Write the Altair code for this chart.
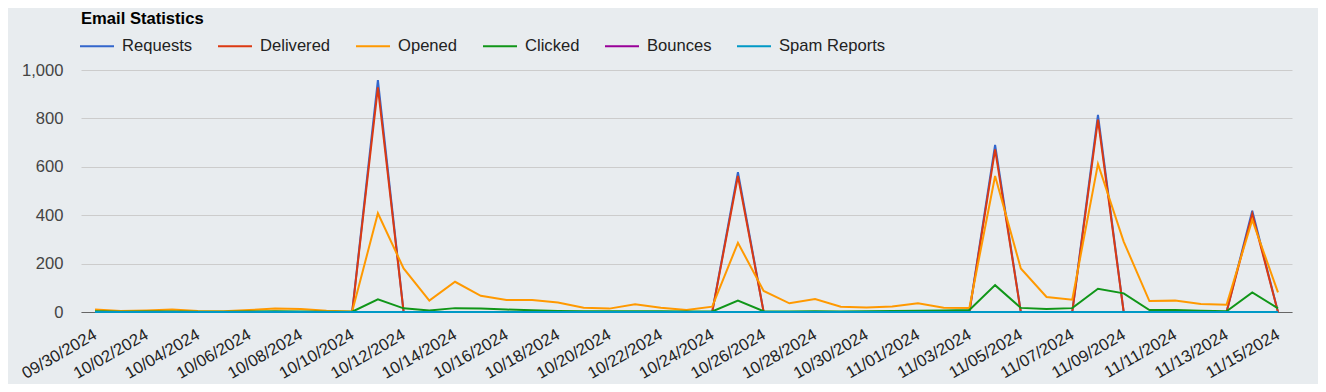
import altair as alt
import pandas as pd

dates = [d.strftime("%m/%d/%Y") for d in pd.date_range("2024-09-30", "2024-11-15", freq="D")]

series_names = ["Requests", "Delivered", "Opened", "Clicked", "Bounces", "Spam Reports"]
series_colors = ["#3366cc", "#dc3912", "#ff9900", "#109618", "#990099", "#0099c6"]

requests = [0, 0, 0, 0, 0, 0, 0, 0, 0, 0, 0, 958, 0, 0, 0, 0, 0, 0, 0, 0, 0, 0, 0, 0, 0,
            578, 0, 0, 0, 0, 0, 0, 0, 0, 0, 690, 0, 0, 0, 815, 0, 0, 0, 0, 0, 418, 0]
delivered = [0, 0, 0, 0, 0, 0, 0, 0, 0, 0, 0, 928, 0, 0, 0, 0, 0, 0, 0, 0, 0, 0, 0, 0, 0,
             562, 0, 0, 0, 0, 0, 0, 0, 0, 0, 672, 0, 0, 0, 795, 0, 0, 0, 0, 0, 405, 0]
opened = [10, 4, 6, 10, 4, 3, 8, 14, 12, 5, 2, 408, 180, 47, 125, 67, 50, 50, 39, 18, 14, 32, 18, 8, 22,
          286, 87, 36, 54, 22, 19, 23, 36, 18, 17, 562, 180, 62, 51, 612, 291, 45, 47, 33, 30, 380, 81]
clicked = [3, 1, 2, 2, 1, 1, 2, 3, 2, 1, 1, 52, 15, 6, 16, 14, 10, 7, 4, 3, 3, 3, 3, 2, 2,
           47, 3, 2, 3, 2, 3, 4, 5, 6, 8, 111, 17, 12, 16, 96, 77, 8, 8, 5, 3, 81, 15]
bounces = [0] * 47
spam_reports = [0] * 47

y_ticks = [0, 200, 400, 600, 800, 1000]

values = [requests, delivered, opened, clicked, bounces, spam_reports]
rows = []
for name, vals in zip(series_names, values):
    for d, v in zip(dates, vals):
        rows.append({"date": d, "series": name, "value": v})
df = pd.DataFrame(rows)

FONT = "Liberation Sans"

x_enc = alt.X(
    "date:O",
    sort=dates,
    scale=alt.Scale(type="point", padding=0.545),
    axis=alt.Axis(
        title=None,
        values=dates[::2],
        labelAngle=-30,
        labelAlign="right",
        labelBaseline="middle",
        labelPadding=21,
        ticks=False,
        tickSize=0,
        grid=False,
        domain=True,
        domainColor="#666666",
        domainWidth=1,
        labelFont=FONT,
        labelFontSize=16.6,
        labelColor="#222222",
        labelOverlap=False,
    ),
)
y_enc = alt.Y(
    "value:Q",
    scale=alt.Scale(domain=[0, 1000], nice=False),
    axis=alt.Axis(
        title=None,
        values=y_ticks,
        format=",d",
        domain=False,
        ticks=False,
        tickSize=0,
        labelPadding=18,
        grid=True,
        gridColor="#cccccc",
        gridWidth=1,
        labelFont=FONT,
        labelFontSize=16.6,
        labelColor="#444444",
    ),
)
color_enc = alt.Color(
    "series:N",
    scale=alt.Scale(domain=series_names, range=series_colors),
    sort=series_names,
    legend=alt.Legend(
        title=None,
        orient="none",
        legendX=-2,
        legendY=-42,
        direction="horizontal",
        columns=6,
        symbolType="stroke",
        symbolSize=1156,
        symbolStrokeWidth=2,
        labelFont=FONT,
        labelFontSize=16.6,
        labelColor="#222222",
        labelOffset=7,
        columnPadding=21,
        padding=0,
    ),
)

layers = []
for name in series_names:
    layers.append(
        alt.Chart(df)
        .transform_filter(alt.datum.series == name)
        .mark_line(strokeWidth=2)
        .encode(x=x_enc, y=y_enc, color=color_enc)
    )

chart = (
    alt.layer(*layers)
    .properties(
        width=1211,
        height=242,
        title=alt.Title(
            "Email Statistics",
            anchor="start",
            frame="group",
            font=FONT,
            fontSize=16.6,
            fontWeight="bold",
            color="#000000",
            offset=0,
        ),
        autosize=alt.AutoSizeParams(type="none"),
        padding={"left": 73, "top": 62, "right": 26, "bottom": 72},
        background="#e8ecef",
    )
    .configure_view(stroke=None)
)

chart.save("out.html", embed_options={"renderer": "svg", "actions": False})
